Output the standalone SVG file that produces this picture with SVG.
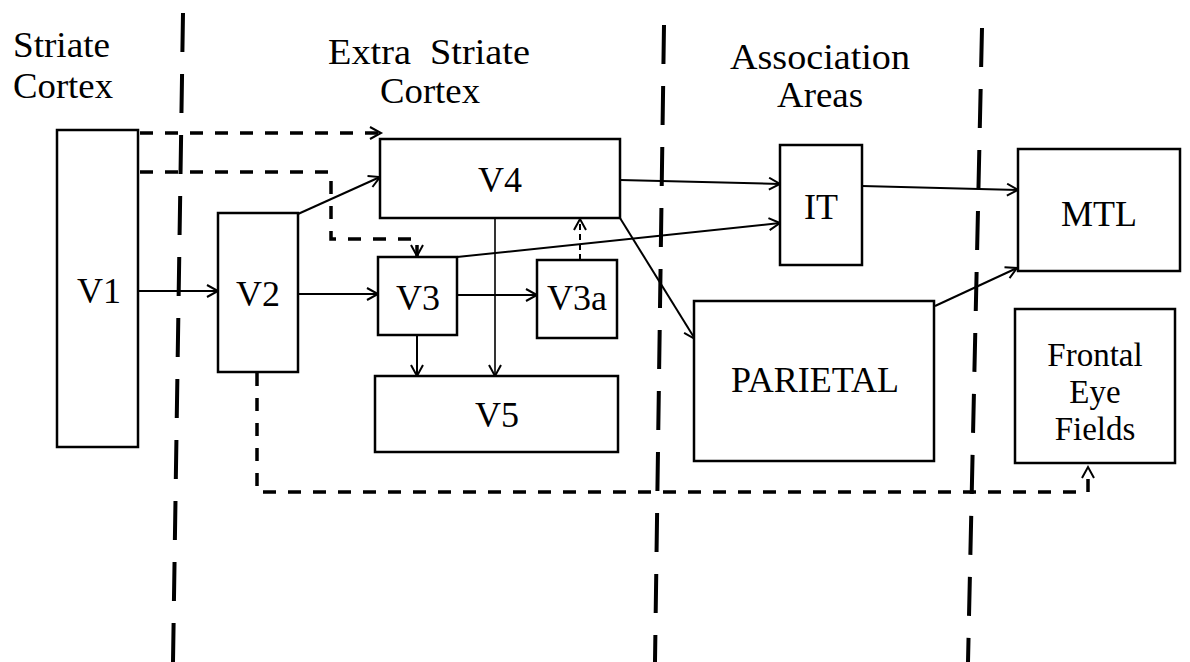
<svg xmlns="http://www.w3.org/2000/svg" width="1190" height="662" viewBox="0 0 1190 662">
<style>
  text { font-family: 'Liberation Serif', Tinos, 'DejaVu Serif', 'Noto Serif', 'Nimbus Roman', FreeSerif, Times, 'Times New Roman', serif; font-size: 36px; fill: #000; }
  .lbl { text-anchor: middle; }
  .fef { font-size: 33px; }
  .box { fill: #fff; stroke: #000; stroke-width: 2.5; }
  .sep { stroke: #000; stroke-width: 4; stroke-dasharray: 39 22; fill: none; }
  .arr { stroke: #000; stroke-width: 2; fill: none; marker-end: url(#ah); }
  .dash { stroke: #000; stroke-width: 3.5; stroke-dasharray: 13 12; fill: none; }
  .dashthin { stroke: #000; stroke-width: 2; stroke-dasharray: 6 4; fill: none; }
  .ahp { stroke: #000; stroke-width: 2; fill: none; stroke-dasharray: none; }
</style>
<defs>
  <marker id="ah" markerUnits="userSpaceOnUse" markerWidth="16" markerHeight="16" refX="13" refY="7" orient="auto">
    <path class="ahp" d="M2,1 L13,7 L2,13"/>
  </marker>
</defs>
<rect width="1190" height="662" fill="#fff"/>

<g id="separators">
  <line class="sep" x1="183" y1="13" x2="173" y2="662"/>
  <line class="sep" x1="664" y1="25" x2="655" y2="662"/>
  <line class="sep" x1="982" y1="28" x2="968" y2="662"/>
</g>

<g id="headers">
  <text x="13" y="57" textLength="97" lengthAdjust="spacingAndGlyphs">Striate</text>
  <text x="13" y="98" textLength="100" lengthAdjust="spacingAndGlyphs">Cortex</text>
  <text x="328" y="64" textLength="202" lengthAdjust="spacingAndGlyphs" xml:space="preserve">Extra  Striate</text>
  <text x="380" y="103" textLength="100" lengthAdjust="spacingAndGlyphs">Cortex</text>
  <text x="730" y="69" textLength="180" lengthAdjust="spacingAndGlyphs">Association</text>
  <text x="777" y="107" textLength="86" lengthAdjust="spacingAndGlyphs">Areas</text>
</g>

<g id="connectors">
  <line class="arr" x1="138" y1="291" x2="218" y2="291"/>
  <line class="arr" x1="298" y1="294" x2="378" y2="294"/>
  <line class="arr" x1="457" y1="295" x2="537" y2="295"/>
  <line class="arr" x1="298" y1="214" x2="380" y2="177"/>
  <line class="arr" x1="620" y1="180" x2="780" y2="184"/>
  <line class="arr" x1="457" y1="257" x2="780" y2="223"/>
  <line class="arr" x1="862" y1="186" x2="1018" y2="190"/>
  <line class="arr" x1="620" y1="218" x2="695" y2="339"/>
  <line class="arr" x1="935" y1="306" x2="1017" y2="268"/>
  <line class="arr" x1="495" y1="218" x2="495" y2="376" style="stroke-width:1.6"/>
  <line class="arr" x1="417" y1="335" x2="417" y2="376"/>
  <path class="dashthin" d="M580,260 V219" marker-end="url(#ah)"/>
  <path class="dash" d="M140,133 H381" marker-end="url(#ah)"/>
  <path class="dash" d="M140,172 H331 V239 H417 V256" marker-end="url(#ah)"/>
  <path class="dash" d="M257,373 V492 H1088 V467" marker-end="url(#ah)"/>
</g>

<g id="V1">
  <rect class="box" x="57" y="130" width="81" height="317"/>
  <text class="lbl" x="99" y="303">V1</text>
</g>
<g id="V2">
  <rect class="box" x="218" y="213" width="80" height="159"/>
  <text class="lbl" x="258" y="306">V2</text>
</g>
<g id="V4">
  <rect class="box" x="380" y="139" width="240" height="79"/>
  <text class="lbl" x="500" y="192">V4</text>
</g>
<g id="V3">
  <rect class="box" x="378" y="257" width="79" height="78"/>
  <text class="lbl" x="418" y="310">V3</text>
</g>
<g id="V3a">
  <rect class="box" x="537" y="260" width="80" height="78"/>
  <text class="lbl" x="577" y="310">V3a</text>
</g>
<g id="V5">
  <rect class="box" x="375" y="376" width="243" height="76"/>
  <text class="lbl" x="497" y="427">V5</text>
</g>
<g id="IT">
  <rect class="box" x="780" y="145" width="82" height="120"/>
  <text class="lbl" x="821" y="219">IT</text>
</g>
<g id="MTL">
  <rect class="box" x="1018" y="149" width="162" height="122"/>
  <text class="lbl" x="1099" y="226">MTL</text>
</g>
<g id="PARIETAL">
  <rect class="box" x="694" y="301" width="240" height="160"/>
  <text class="lbl" x="815" y="392">PARIETAL</text>
</g>
<g id="FEF">
  <rect class="box" x="1015" y="309" width="160" height="154"/>
  <text class="lbl fef" x="1095" y="366">Frontal</text>
  <text class="lbl fef" x="1095" y="403">Eye</text>
  <text class="lbl fef" x="1095" y="440">Fields</text>
</g>
</svg>
